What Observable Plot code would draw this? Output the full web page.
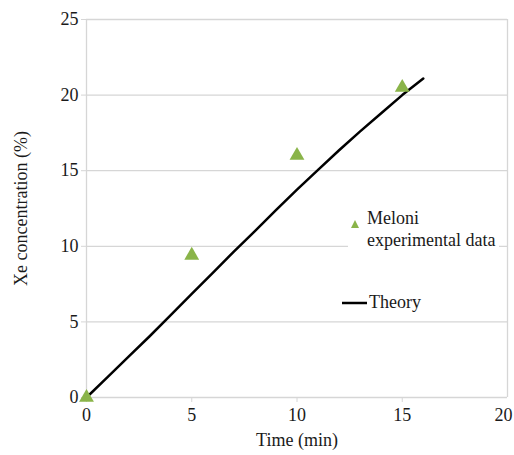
<!DOCTYPE html>
<html><head><meta charset="utf-8">
<script src="https://cdn.jsdelivr.net/npm/d3@7"></script>
<script src="https://cdn.jsdelivr.net/npm/@observablehq/plot@0.6"></script>
<style>
body{margin:0;background:#fff;font-family:"Liberation Serif","Times New Roman",serif;}
#wrap{position:relative;width:514px;height:455px;}
.leg{position:absolute;font-size:18px;color:#1a1a1a;line-height:22px;background:#fff;}
</style></head><body>
<div id="wrap"></div>
<script>
const expTime = [0, 5, 10, 15];
const expConc = [0, 9.4, 16, 20.5];
const theoryTime = [0, 1, 2, 3, 4, 5, 6, 7, 8, 9, 10, 11, 12, 13, 14, 15, 16];
const theoryConc = [0, 1.35, 2.7, 4.05, 5.45, 6.85, 8.25, 9.65, 11.0, 12.4, 13.75, 15.05, 16.35, 17.6, 18.8, 20.0, 21.1];
const xTicks = [0, 5, 10, 15, 20];
const yTicks = [0, 5, 10, 15, 20, 25];

const exp = expTime.map((t, i) => ({t, c: expConc[i]}));
const theory = theoryTime.map((t, i) => ({t, c: theoryConc[i]}));
const grid = "#d6d6d6";
const lastX = xTicks[xTicks.length - 1];

const chart = Plot.plot({
  width: 514, height: 455,
  marginLeft: 86, marginRight: 7, marginTop: 19, marginBottom: 58,
  style: {fontFamily: "'Liberation Serif','Times New Roman',serif", fontSize: "18px", color: "#1a1a1a", background: "#fff"},
  x: {domain: [0, 20]},
  y: {domain: [0, 25]},
  marks: [
    Plot.ruleY(yTicks, {stroke: grid, strokeWidth: 1.3}),
    Plot.ruleX([0, 20], {stroke: grid, strokeWidth: 1.3}),
    Plot.axisX({ticks: xTicks.slice(0, -1), tickSize: 5, tickPadding: 6, stroke: grid, label: "Time (min)", labelAnchor: "center", labelArrow: "none", labelOffset: 48, fontSize: 18}),
    Plot.axisX({ticks: [lastX], tickSize: 0, tickPadding: 11, dx: -4, label: null, fontSize: 18}),
    Plot.axisY({ticks: yTicks, tickSize: 5, tickPadding: 3, stroke: grid, label: "Xe concentration (%)", labelAnchor: "center", labelArrow: "none", labelOffset: 72, fontSize: 18}),
    Plot.line(theory, {x: "t", y: "c", stroke: "#000", strokeWidth: 2.5}),
    Plot.dot(exp, {x: "t", y: "c", symbol: "triangle", r: 5.5, fill: "#8ab449", stroke: "none"})
  ]
});
const wrap = document.getElementById("wrap");
wrap.appendChild(chart);

const leg1 = document.createElement("div");
leg1.className = "leg";
leg1.style.left = "348px"; leg1.style.top = "207px"; leg1.style.paddingRight = "4px";
leg1.innerHTML = '<svg width="15" height="12" style="position:absolute;left:2px;top:12px"><polygon points="5,1 9,9 1,9" fill="#8ab449"/></svg><div style="margin-left:19px">Meloni<br>experimental data</div>';
wrap.appendChild(leg1);

const leg2 = document.createElement("div");
leg2.className = "leg";
leg2.style.left = "342px"; leg2.style.top = "291px"; leg2.style.background = "transparent";
leg2.innerHTML = '<svg width="26" height="6" style="position:absolute;left:0;top:9px"><line x1="0" y1="3" x2="25" y2="3" stroke="#000" stroke-width="2.5"/></svg><div style="margin-left:27px">Theory</div>';
wrap.appendChild(leg2);
</script>
</body></html>
